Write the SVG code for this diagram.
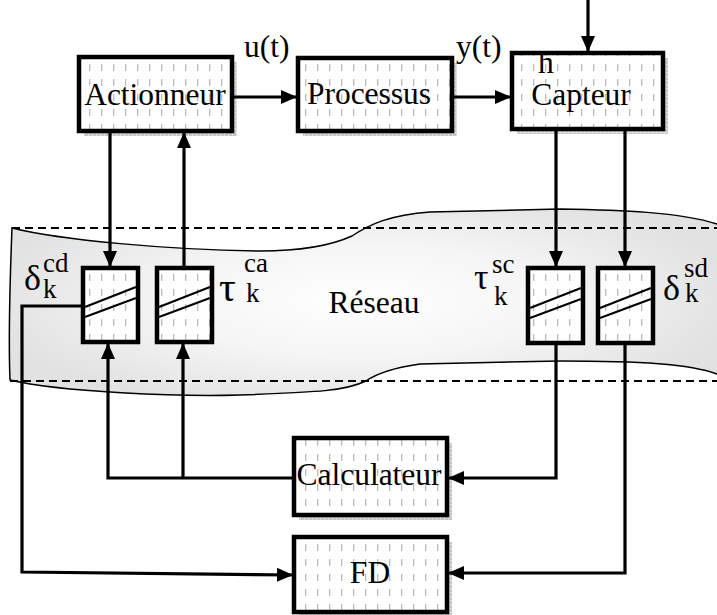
<svg xmlns="http://www.w3.org/2000/svg" width="717" height="615" viewBox="0 0 717 615" font-family="Liberation Serif, Times New Roman, DejaVu Serif, serif">
<defs>
<pattern id="dash" width="12" height="15" patternUnits="userSpaceOnUse">
<rect width="12" height="15" fill="#fff"/>
<rect x="5" y="4" width="1.3" height="7" fill="#bcbcbc"/>
</pattern>
<pattern id="shd" width="4" height="4" patternUnits="userSpaceOnUse">
<rect width="4" height="4" fill="#c6c6c6"/>
<path d="M0,0.5H4M0.5,0V4" stroke="#dedede" stroke-width="1"/>
</pattern>
<radialGradient id="net" cx="360" cy="300" r="380" gradientUnits="userSpaceOnUse" gradientTransform="translate(360 300) scale(1 0.3) translate(-360 -300)">
<stop offset="0" stop-color="#ffffff"/>
<stop offset="0.5" stop-color="#f5f5f5"/>
<stop offset="1" stop-color="#e2e2e2"/>
</radialGradient>
<marker id="arr" markerUnits="userSpaceOnUse" markerWidth="18" markerHeight="16" refX="16" refY="8" orient="auto">
<path d="M0,1 L16,8 L0,15 Z" fill="#000"/>
</marker>
</defs>
<style>
.box{fill:url(#dash);stroke:#000;stroke-width:4.5}
.sh{fill:url(#shd)}
.dl{fill:url(#dash);stroke:#000;stroke-width:4.5}
.diag{stroke:#000;stroke-width:2.2;fill:none}
.t{font-size:31.5px;fill:#000}
.g{fill:#000}
.ca{stroke:#000;stroke-width:3.2;fill:none;marker-end:url(#arr)}
.dsh{stroke:#000;stroke-width:2;stroke-dasharray:8 5;fill:none}
</style>

<g id="reseau">
<path d="M12,228 C60,240 170,250 260,251 C300,251 330,246 352,236 C370,224 390,215 430,212 L560,209 C620,210 680,212 717,224 L730,230 L730,370 L717,374 C690,364 640,361 560,361 L420,364 C392,368 376,374 366,381 C345,391 320,392 240,395 C180,397 60,392 10,380 C8,330 10,280 12,228 Z" fill="url(#net)" stroke="#000" stroke-width="1.5"/>
<line class="dsh" x1="12" y1="228" x2="717" y2="228"/>
<line class="dsh" x1="10" y1="381" x2="717" y2="381"/>
<text class="t" x="374" y="313" text-anchor="middle">Réseau</text>
</g>

<g id="actionneur">
<rect class="sh" x="84" y="62" width="153" height="74"/>
<rect class="box" x="79" y="57" width="153" height="74"/>
<text class="t" x="155" y="105" text-anchor="middle">Actionneur</text>
</g>

<g id="processus">
<rect class="sh" x="303" y="63" width="154" height="73"/>
<rect class="box" x="298" y="58" width="154" height="73"/>
<text class="t" x="369" y="104" text-anchor="middle">Processus</text>
</g>

<g id="capteur">
<rect class="sh" x="517" y="58" width="151" height="76"/>
<rect class="box" x="512" y="53" width="151" height="76"/>
<text class="t" x="538" y="73" font-size="24">h</text>
<text class="t" x="581" y="105" text-anchor="middle">Capteur</text>
</g>

<g id="calculateur">
<rect class="sh" x="299" y="443" width="153" height="77"/>
<rect class="box" x="294" y="438" width="153" height="77"/>
<text class="t" x="369" y="485" text-anchor="middle">Calculateur</text>
</g>

<g id="fd">
<rect class="sh" x="299" y="542" width="153" height="75"/>
<rect class="box" x="294" y="537" width="153" height="75"/>
<text class="t" x="370" y="583" text-anchor="middle">FD</text>
</g>

<g id="delay-cd">
<rect class="dl" x="83" y="268" width="55" height="74"/>
<line class="diag" x1="85" y1="307" x2="136" y2="287"/>
<line class="diag" x1="85" y1="317" x2="136" y2="298"/>
<text class="g" x="24" y="290" font-size="36">δ</text>
<text class="g" x="43" y="272" font-size="27">cd</text>
<text class="g" x="43" y="298" font-size="27">k</text>
</g>

<g id="delay-ca">
<rect class="dl" x="157" y="268" width="55" height="74"/>
<line class="diag" x1="159" y1="307" x2="210" y2="287"/>
<line class="diag" x1="159" y1="317" x2="210" y2="298"/>
<text class="g" x="219" y="301" font-size="42">τ</text>
<text class="g" x="244" y="272" font-size="27">ca</text>
<text class="g" x="246" y="302" font-size="27">k</text>
</g>

<g id="delay-sc">
<rect class="dl" x="528" y="268" width="55" height="75"/>
<line class="diag" x1="530" y1="308" x2="581" y2="288"/>
<line class="diag" x1="530" y1="318" x2="581" y2="299"/>
<text class="g" x="474" y="289" font-size="36">τ</text>
<text class="g" x="492" y="273" font-size="27">sc</text>
<text class="g" x="494" y="305" font-size="27">k</text>
</g>

<g id="delay-sd">
<rect class="dl" x="598" y="268" width="55" height="75"/>
<line class="diag" x1="600" y1="308" x2="651" y2="288"/>
<line class="diag" x1="600" y1="318" x2="651" y2="299"/>
<text class="g" x="663" y="300" font-size="36">δ</text>
<text class="g" x="684" y="277" font-size="27">sd</text>
<text class="g" x="685" y="302" font-size="27">k</text>
</g>

<g id="connectors">
<line class="ca" x1="234" y1="97" x2="297" y2="97"/>
<line class="ca" x1="454" y1="97" x2="511" y2="97"/>
<line class="ca" x1="588" y1="0" x2="588" y2="52"/>
<line class="ca" x1="110" y1="133" x2="110" y2="267"/>
<line class="ca" x1="184" y1="266" x2="184" y2="132"/>
<line class="ca" x1="556" y1="131" x2="556" y2="267"/>
<line class="ca" x1="625" y1="131" x2="625" y2="267"/>
<polyline class="ca" points="556,345 556,478 448,478"/>
<polyline class="ca" points="625,345 625,573 448,573"/>
<polyline class="ca" points="292,478 108,478 108,343"/>
<line class="ca" x1="183" y1="478" x2="183" y2="343"/>
<polyline class="ca" points="81,306 22,306 22,572 293,575"/>
<text class="t" x="244" y="57">u(t)</text>
<text class="t" x="456" y="57">y(t)</text>
</g>
</svg>
